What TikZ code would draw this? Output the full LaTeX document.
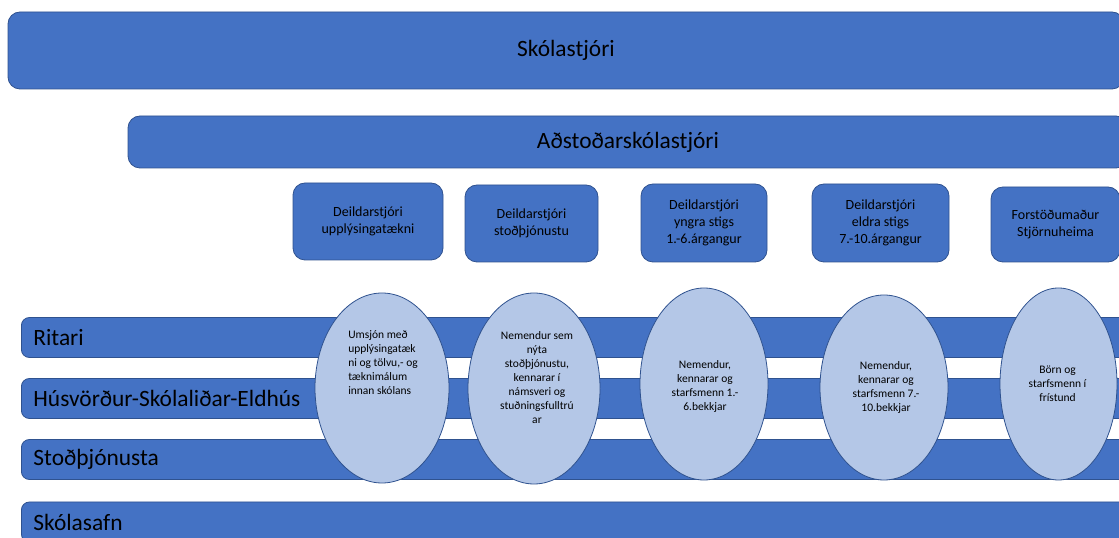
\documentclass[tikz,border=0pt]{standalone}
\usepackage{fontspec}
\setmainfont{Carlito}
\usepackage{tikz}
\usetikzlibrary{positioning, shapes.geometric}
\definecolor{boxblue}{HTML}{4472C4}
\definecolor{edgeblue}{HTML}{2F528F}
\definecolor{ovalblue}{HTML}{B4C7E7}
\tikzset{
    x=1pt, y=1pt,
    every node/.style={text=black},
    headbar/.style={draw=edgeblue, fill=boxblue, line width=0.8pt, rounded corners=12pt,
        inner sep=0pt, font=\fontsize{23.4}{28}\selectfont},
    dbox/.style={draw=edgeblue, fill=boxblue, line width=0.8pt, rounded corners=12pt,
        inner sep=0pt, align=center, font=\fontsize{14}{17}\selectfont},
    staffbar/.style={draw=edgeblue, fill=boxblue, line width=0.8pt, rounded corners=8pt,
        anchor=west, minimum height=40pt, inner xsep=12pt, inner ysep=0pt,
        text width=1091pt, align=left, font=\fontsize{23.4}{28}\selectfont},
    oval/.style={ellipse, draw=edgeblue, fill=ovalblue, line width=0.8pt, inner sep=0pt},
    ovaltext/.style={inner sep=0pt, align=center, font=\fontsize{11.5}{14}\selectfont}
}

\begin{document}
\begin{tikzpicture}
    \useasboundingbox (0,0) rectangle (1119,538);
    \clip (0,0) rectangle (1119,538);
    % top of the chart
    \node[headbar, minimum width=1116pt, minimum height=77pt] (skolastjori) at (566,487.5) {Skólastjóri};
    \node[headbar, minimum width=1000pt, minimum height=52pt] (adstod) at (628,396) {Aðstoðarskólastjóri};

    % deildarstjorar
    \node[dbox, minimum width=150pt, minimum height=77pt] (d1) at (368,316.5) {Deildarstjóri\\upplýsingatækni};
    \node[dbox, minimum width=133pt, minimum height=77pt] (d2) at (531.5,314.5) {Deildarstjóri\\stoðþjónustu};
    \node[dbox, minimum width=126pt, minimum height=78pt] (d3) at (704,315) {Deildarstjóri\\yngra stigs\\1.-6.árgangur};
    \node[dbox, minimum width=137pt, minimum height=78pt] (d4) at (880.5,315) {Deildarstjóri\\eldra stigs\\7.-10.árgangur};
    \node[dbox, minimum width=129pt, minimum height=75pt] (d5) at (1055.5,313.5) {Forstöðumaður\\Stjörnuheima};

    % starfsfolk
    \node[staffbar] (ritari) at (21,200.5) {Ritari};
    \node[staffbar] (husvordur) at (21,139.5) {Húsvörður-Skólaliðar-Eldhús};
    \node[staffbar] (stod) at (21,78.5) {Stoðþjónusta};
    \node[staffbar] (safn) at (21,16) {Skólasafn};

    % hopar
    \node[oval, minimum width=134pt, minimum height=190pt] (e1) at (382,150) {};
    \node[oval, minimum width=132pt, minimum height=191pt] (e2) at (534,149.5) {};
    \node[oval, minimum width=128pt, minimum height=192pt] (e3) at (704,154) {};
    \node[oval, minimum width=128pt, minimum height=185pt] (e4) at (884,150.5) {};
    \node[oval, minimum width=117pt, minimum height=192pt] (e5) at (1058.5,154) {};

    \node[ovaltext, align=left] (e1t) at ([xshift=1pt, yshift=25pt]e1.center) {Umsjón með\\upplýsingatæk\\ni og tölvu,- og\\tæknimálum\\innan skólans};
    \node[ovaltext] (e2t) at ([xshift=3pt, yshift=11pt]e2.center) {Nemendur sem\\nýta\\stoðþjónustu,\\kennarar í\\námsveri og\\stuðningsfulltrú\\ar};
    \node[ovaltext] (e3t) at ([xshift=1pt, yshift=-2pt]e3.center) {Nemendur,\\kennarar og\\starfsmenn 1.-\\6.bekkjar};
    \node[ovaltext] (e4t) at ([xshift=2pt]e4.center) {Nemendur,\\kennarar og\\starfsmenn 7.-\\10.bekkjar};
    \node[ovaltext] (e5t) at ([xshift=-1pt]e5.center) {Börn og\\starfsmenn í\\frístund};
\end{tikzpicture}
\end{document}
